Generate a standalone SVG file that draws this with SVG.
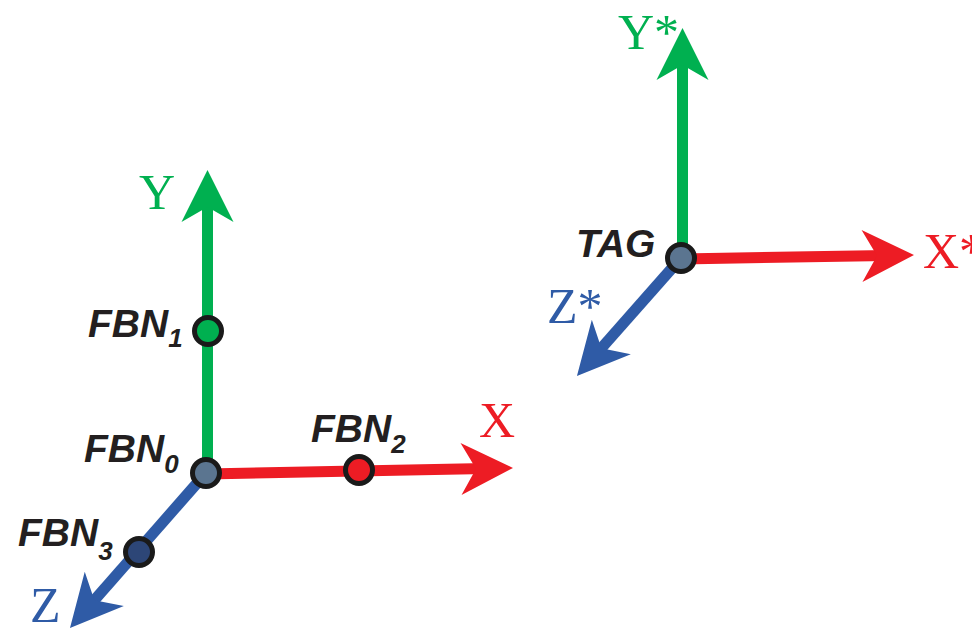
<svg xmlns="http://www.w3.org/2000/svg" width="972" height="629" viewBox="0 0 972 629">
<style>
.ax{fill:none;stroke-width:11;stroke-linecap:butt}
.g{stroke:#00b050}.r{stroke:#ed1c24}.b{stroke:#2f5ba6}
.lab{font-family:"Liberation Serif",serif;font-size:50px}
.nl{font-family:"Liberation Sans",Arial,sans-serif;font-weight:bold;font-style:italic;font-size:39px;fill:#231f20}
.sub{font-size:26px}
.pt{stroke:#1a1a1a;stroke-width:5}
</style>
<defs>
<marker id="ahg" markerUnits="userSpaceOnUse" viewBox="-30 -30 60 60" markerWidth="60" markerHeight="60" refX="0" refY="0" orient="auto"><path d="M27 0 L-25 -26 L-10 0 L-25 26 Z" fill="#00b050"/></marker>
<marker id="ahr" markerUnits="userSpaceOnUse" viewBox="-30 -30 60 60" markerWidth="60" markerHeight="60" refX="0" refY="0" orient="auto"><path d="M27 0 L-25 -26 L-10 0 L-25 26 Z" fill="#ed1c24"/></marker>
<marker id="ahb" markerUnits="userSpaceOnUse" viewBox="-30 -30 60 60" markerWidth="60" markerHeight="60" refX="0" refY="0" orient="auto"><path d="M27 0 L-25 -26 L-10 0 L-25 26 Z" fill="#2f5ba6"/></marker>
</defs>
<g id="connectors">
<line class="ax g" x1="207.5" y1="473" x2="207.5" y2="197" marker-end="url(#ahg)"/>
<line class="ax r" x1="206" y1="474" x2="486" y2="468.5" marker-end="url(#ahr)"/>
<line class="ax b" x1="206" y1="473" x2="87.8" y2="607.7" marker-end="url(#ahb)"/>
<line class="ax g" x1="682.5" y1="258" x2="682.5" y2="55" marker-end="url(#ahg)"/>
<line class="ax r" x1="681" y1="259" x2="887" y2="255.5" marker-end="url(#ahr)"/>
<line class="ax b" x1="681" y1="258" x2="594.8" y2="355.7" marker-end="url(#ahb)"/>
</g>
<g id="axis-labels">
<text class="lab" x="139" y="209" fill="#00b050">Y</text>
<text class="lab" x="479" y="437" fill="#ed1c24">X</text>
<text class="lab" x="30" y="622" fill="#2f5ba6">Z</text>
<text class="lab" x="618" y="49" fill="#00b050">Y*</text>
<text class="lab" x="923" y="268" fill="#ed1c24">X*</text>
<text class="lab" x="547" y="323" fill="#2f5ba6">Z*</text>
</g>
<g id="FBN1"><circle class="pt" cx="208" cy="331" r="13.5" fill="#00b050"/><text class="nl" x="88" y="337">FBN<tspan class="sub" dy="10">1</tspan></text></g>
<g id="FBN0"><circle class="pt" cx="206" cy="473" r="13.5" fill="#5b7590"/><text class="nl" x="84" y="462">FBN<tspan class="sub" dy="11">0</tspan></text></g>
<g id="FBN2"><circle class="pt" cx="359" cy="470" r="13.5" fill="#ed1c24"/><text class="nl" x="311" y="442">FBN<tspan class="sub" dy="11">2</tspan></text></g>
<g id="FBN3"><circle class="pt" cx="139" cy="552" r="13.5" fill="#2d4677"/><text class="nl" x="18" y="546">FBN<tspan class="sub" dy="14">3</tspan></text></g>
<g id="TAG"><circle class="pt" cx="681" cy="258" r="13.5" fill="#5b7590"/><text class="nl" x="576" y="257">TAG</text></g>
</svg>
